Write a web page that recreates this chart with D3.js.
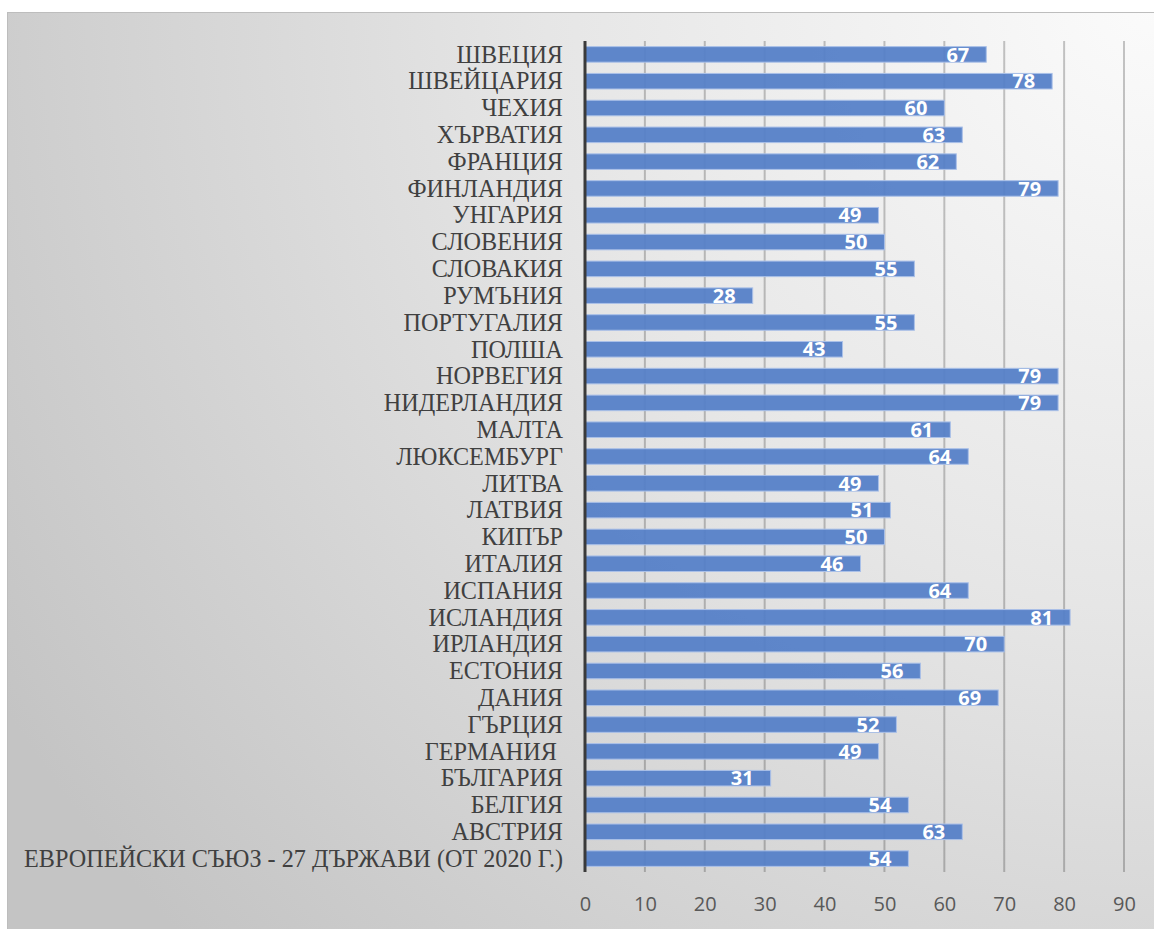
<!DOCTYPE html>
<html>
<head>
<meta charset="utf-8">
<script src="https://cdn.jsdelivr.net/npm/d3@7"></script>
<style>
  html, body { margin: 0; padding: 0; background: #ffffff; }
  svg { display: block; }
</style>
</head>
<body>
<svg id="chart" width="1154" height="929"></svg>
<script>
// Countries, top to bottom as listed on the chart
const countries = [
  "ШВЕЦИЯ", "ШВЕЙЦАРИЯ", "ЧЕХИЯ", "ХЪРВАТИЯ", "ФРАНЦИЯ", "ФИНЛАНДИЯ",
  "УНГАРИЯ", "СЛОВЕНИЯ", "СЛОВАКИЯ", "РУМЪНИЯ", "ПОРТУГАЛИЯ", "ПОЛША",
  "НОРВЕГИЯ", "НИДЕРЛАНДИЯ", "МАЛТА", "ЛЮКСЕМБУРГ", "ЛИТВА", "ЛАТВИЯ",
  "КИПЪР", "ИТАЛИЯ", "ИСПАНИЯ", "ИСЛАНДИЯ", "ИРЛАНДИЯ", "ЕСТОНИЯ",
  "ДАНИЯ", "ГЪРЦИЯ", "ГЕРМАНИЯ ", "БЪЛГАРИЯ", "БЕЛГИЯ", "АВСТРИЯ",
  "ЕВРОПЕЙСКИ СЪЮЗ - 27 ДЪРЖАВИ (ОТ 2020 Г.)"
];
const values = [
  67, 78, 60, 63, 62, 79,
  49, 50, 55, 28, 55, 43,
  79, 79, 61, 64, 49, 51,
  50, 46, 64, 81, 70, 56,
  69, 52, 49, 31, 54, 63,
  54
];
const xTicks = [0, 10, 20, 30, 40, 50, 60, 70, 80, 90];

const data = countries.map((c, i) => ({ name: c, value: values[i] }));

const svg = d3.select("#chart");
const W = 1154, H = 929;

// Chart area background: soft gradient, light at top right, grey at bottom left
const defs = svg.append("defs");
const grad = defs.append("radialGradient")
  .attr("id", "bg")
  .attr("gradientUnits", "userSpaceOnUse")
  .attr("cx", 1154).attr("cy", 0).attr("r", 1350);
grad.append("stop").attr("offset", "0%").attr("stop-color", "#fbfbfb");
grad.append("stop").attr("offset", "45%").attr("stop-color", "#e6e6e6");
grad.append("stop").attr("offset", "100%").attr("stop-color", "#c4c4c4");

svg.append("rect")
  .attr("x", 7.5).attr("y", 12.5)
  .attr("width", W).attr("height", H)
  .attr("fill", "url(#bg)")
  .attr("stroke", "#bdbdbd")
  .attr("stroke-width", 1);

const plot = { left: 585, right: 1124, top: 41, bottom: 872 };

const x = d3.scaleLinear().domain([0, 90]).range([plot.left, plot.right]);
const y = d3.scaleBand()
  .domain(countries)
  .range([plot.top, plot.bottom])
  .paddingInner(0.42)
  .paddingOuter(0.21);

// Vertical gridlines
svg.append("g")
  .selectAll("line")
  .data(xTicks.filter(t => t > 0))
  .join("line")
  .attr("x1", d => x(d)).attr("x2", d => x(d))
  .attr("y1", plot.top).attr("y2", plot.bottom)
  .attr("stroke", "#000")
  .attr("stroke-opacity", 0.22)
  .attr("stroke-width", 2);

// Bars
svg.append("g")
  .selectAll("rect")
  .data(data)
  .join("rect")
  .attr("x", x(0))
  .attr("y", d => y(d.name))
  .attr("width", d => x(d.value) - x(0))
  .attr("height", y.bandwidth())
  .attr("fill", "#5580c8")
  .attr("fill-opacity", 0.94)
  .attr("stroke", "#aac0e8")
  .attr("stroke-width", 1);

// Value labels inside the bar ends
svg.append("g")
  .selectAll("text")
  .data(data)
  .join("text")
  .attr("x", d => x(d.value) - 17)
  .attr("y", d => y(d.name) + y.bandwidth() / 2)
  .attr("dy", "0.36em")
  .attr("text-anchor", "end")
  .attr("font-family", "'Open Sans', 'Liberation Sans', sans-serif")
  .attr("font-weight", "bold")
  .attr("font-size", 20)
  .attr("fill", "#ffffff")
  .text(d => d.value);

// Category axis line
svg.append("line")
  .attr("x1", x(0)).attr("x2", x(0))
  .attr("y1", plot.top).attr("y2", plot.bottom)
  .attr("stroke", "#3a3a3a")
  .attr("stroke-width", 3);

// Category labels
svg.append("g")
  .selectAll("text")
  .data(data)
  .join("text")
  .attr("x", 563)
  .attr("y", d => y(d.name) + y.bandwidth() / 2)
  .attr("dy", "0.34em")
  .attr("text-anchor", "end")
  .attr("font-family", "'Liberation Serif', 'Times New Roman', serif")
  .attr("font-size", 24.2)
  .attr("fill", "#404040")
  .style("white-space", "pre")
  .text(d => d.name);

// Value axis tick labels
const xAxis = d3.axisBottom(x).tickValues(xTicks).tickSize(0).tickPadding(0);
const gx = svg.append("g")
  .attr("transform", `translate(0, ${plot.bottom})`)
  .call(xAxis);
gx.select(".domain").remove();
gx.selectAll("text")
  .attr("y", 39)
  .attr("dy", 0)
  .attr("font-family", "'Open Sans', 'Liberation Sans', sans-serif")
  .attr("font-size", 20)
  .attr("fill", "#595959");
</script>
</body>
</html>
